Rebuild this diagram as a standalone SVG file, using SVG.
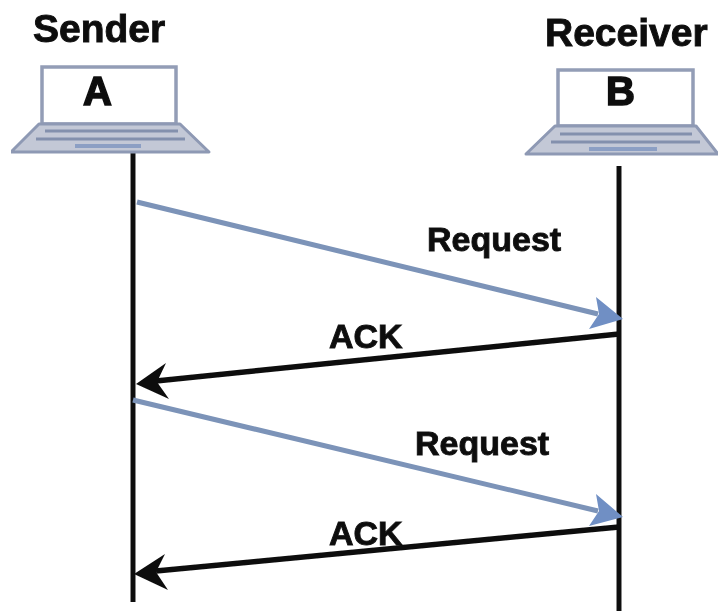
<svg xmlns="http://www.w3.org/2000/svg" width="718" height="611" viewBox="0 0 718 611">
<defs><filter id="soft" x="0" y="0" width="100%" height="100%"><feGaussianBlur stdDeviation="0.7"/></filter></defs>
<style>
text{font-family:"Liberation Sans",Arial,sans-serif;font-weight:700;fill:#111;stroke:#111;stroke-width:0.9}
.t{font-size:39px}
.n{font-size:40px;stroke-width:1.6}
.l{font-size:34px}
.screen{fill:#fff;stroke:#939db6;stroke-width:3.5}
.base{fill:#c3c8d6;stroke:#8e99b4;stroke-width:3;stroke-linejoin:round}
.key{stroke:#8390ad;stroke-width:3;fill:none}
.pad{stroke:#8c9fc4;stroke-width:4;fill:none}
.life{stroke:#111;stroke-width:5;fill:none}
.blue{stroke:#7b93b8;stroke-width:5;fill:none}
.black{stroke:#111;stroke-width:5.5;fill:none}
.hb{fill:#6f8fc4}
.hk{fill:#111}
</style>
<rect width="718" height="611" fill="#fff"/>
<g filter="url(#soft)">
<g id="connectors">
<path class="life" d="M133 152V602"/>
<path class="life" d="M619 166V611"/>
<path class="blue" d="M137 202L598 314"/>
<polygon class="hb" points="623,319 589,329 599,314 596,297"/>
<path class="black" d="M619 334L156 381"/>
<polygon class="hk" points="136,384 166,363 157,382 169,399"/>
<path class="blue" d="M133 400L598 511"/>
<polygon class="hb" points="623,517 589,526 599,511 596,494"/>
<path class="black" d="M619 527L156 571"/>
<polygon class="hk" points="134,574 165,554 156,572 168,590"/>
</g>
<g id="sender">
<text class="t" x="33" y="42">Sender</text>
<rect class="screen" x="42" y="67" width="134" height="57"/>
<polygon class="base" points="39,124 180,124 209,152 11,152"/>
<path class="key" d="M45 131H178M36 139H185"/>
<path class="pad" d="M75 146H141"/>
<text class="n" x="83" y="105">A</text>
</g>
<g id="receiver">
<text class="t" x="545" y="46">Receiver</text>
<rect class="screen" x="558" y="70" width="135" height="56"/>
<polygon class="base" points="555,126 696,126 718,154 526,154"/>
<path class="key" d="M560 134H692M551 142H700"/>
<path class="pad" d="M589 149H657"/>
<text class="n" x="606" y="105">B</text>
</g>
<g id="labels">
<text class="l" x="427" y="251">Request</text>
<text class="l" x="329" y="348">ACK</text>
<text class="l" x="415" y="455">Request</text>
<text class="l" x="329" y="545">ACK</text>
</g>
</g>
</svg>
